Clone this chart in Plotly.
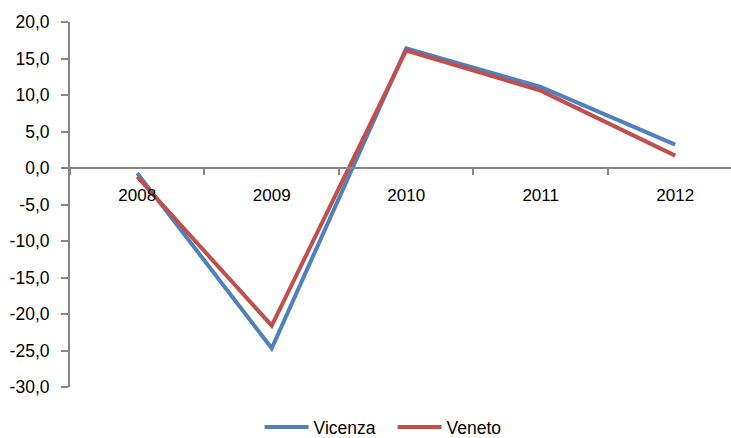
import plotly.graph_objects as go

# Annual growth rates (%)
years = ["2008", "2009", "2010", "2011", "2012"]
vicenza = [-0.7, -24.7, 16.4, 11.1, 3.2]
veneto = [-1.2, -21.6, 16.1, 10.6, 1.7]

y_ticks = [20, 15, 10, 5, 0, -5, -10, -15, -20, -25, -30]
y_tick_text = [f"{v:.1f}".replace(".", ",") for v in y_ticks]

BLUE = "#4F81BD"
RED = "#C0504D"
AXIS = "#868686"
FONT = "Liberation Sans, Arial, sans-serif"

fig = go.Figure()
fig.add_trace(go.Scatter(x=years, y=vicenza, name="Vicenza", mode="lines",
                         line=dict(color=BLUE, width=4)))
fig.add_trace(go.Scatter(x=years, y=veneto, name="Veneto", mode="lines",
                         line=dict(color=RED, width=4)))

fig.update_layout(
    width=731, height=438,
    margin=dict(l=70, r=0, t=22, b=51, autoexpand=False),
    paper_bgcolor="white", plot_bgcolor="white",
    font=dict(family=FONT, size=17.5, color="black"),
    showlegend=True,
    legend=dict(orientation="h", x=0.488, xanchor="center", y=-0.11, yanchor="middle",
                font=dict(size=17.5), itemwidth=44, entrywidth=74, entrywidthmode="pixels",
                tracegroupgap=0),
    xaxis=dict(
        type="category", range=[-0.5, 4.415],
        anchor="free", position=0.6,
        showline=True, linecolor=AXIS, linewidth=2,
        ticks="outside", ticklen=6, tickcolor=AXIS, tickwidth=1.5,
        tickson="boundaries", showgrid=False, zeroline=False,
        tickfont=dict(size=17), ticklabelstandoff=12,
    ),
    yaxis=dict(
        range=[-30, 20], tickvals=y_ticks, ticktext=y_tick_text,
        showline=True, linecolor=AXIS, linewidth=2,
        ticks="outside", ticklen=7, tickcolor=AXIS, tickwidth=1.5,
        showgrid=False, zeroline=False, ticklabelstandoff=8,
    ),
)

fig.write_html("out.html")
